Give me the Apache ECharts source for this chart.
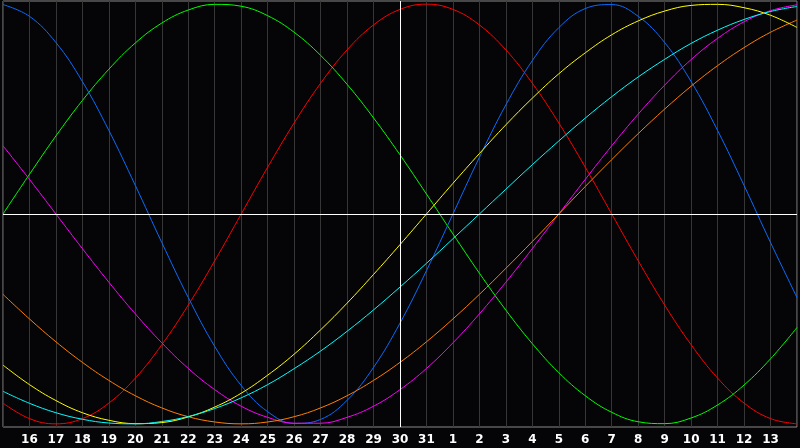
<!DOCTYPE html>
<html>
<head>
<meta charset="utf-8">
<style>
  html, body { margin: 0; padding: 0; background: #050407; }
  #chart { width: 800px; height: 448px; }
</style>
<script src="https://cdn.jsdelivr.net/npm/echarts@6/dist/echarts.min.js"></script>
</head>
<body>
<div id="chart"></div>
<script>
// days shown on the x axis (15th of one month to 14th of the next)
var days = ['15', '16', '17', '18', '19', '20', '21', '22', '23', '24', '25', '26', '27', '28', '29', '30', '31',
    '1', '2', '3', '4', '5', '6', '7', '8', '9', '10', '11', '12', '13', '14'];

// curve values, -100 .. 100, one per day
var red = [-90.1, -97.5, -100, -97.5, -90.1, -78.2, -62.3, -43.4, -22.3, 0, 22.3, 43.4, 62.3, 78.2, 90.1, 97.5, 100,
    97.5, 90.1, 78.2, 62.3, 43.4, 22.3, 0, -22.3, -43.4, -62.3, -78.2, -90.1, -97.5, -100];
var green = [0, 18.9, 37.2, 54.1, 69.0, 81.5, 91.0, 97.2, 99.9, 99.0, 94.5, 86.6, 75.6, 61.8, 45.8, 28.2, 9.5,
    -9.5, -28.2, -45.8, -61.8, -75.6, -86.6, -94.5, -99.0, -99.9, -97.2, -91.0, -81.5, -69.0, -54.1];
var blue = [99.8, 94.2, 81.7, 63.1, 39.8, 13.6, -13.6, -39.8, -63.1, -81.7, -94.2, -99.8, -97.9, -88.8, -73.1, -52.0, -27.0,
    0, 27.0, 52.0, 73.1, 88.8, 97.9, 99.8, 94.2, 81.7, 63.1, 39.8, 13.6, -13.6, -39.8];
var magenta = [32.5, 16.5, 0, -16.5, -32.5, -47.6, -61.4, -73.6, -83.7, -91.6, -96.9, -99.7, -99.7, -96.9, -91.6, -83.7, -73.6,
    -61.4, -47.6, -32.5, -16.5, 0, 16.5, 32.5, 47.6, 61.4, 73.6, 83.7, 91.6, 96.9, 99.7];
var orange = [-38.3, -50.0, -60.9, -70.7, -79.3, -86.6, -92.4, -96.6, -99.1, -100, -99.1, -96.6, -92.4, -86.6, -79.3, -70.7, -60.9,
    -50.0, -38.3, -25.9, -13.1, 0, 13.1, 25.9, 38.3, 50.0, 60.9, 70.7, 79.3, 86.6, 92.4];
var yellow = [-72.0, -81.3, -88.9, -94.7, -98.3, -99.9, -99.4, -96.7, -92.0, -85.4, -76.8, -66.8, -55.2, -42.5, -28.8, -14.6, 0,
    14.6, 28.8, 42.5, 55.2, 66.8, 76.8, 85.4, 92.0, 96.7, 99.4, 99.9, 98.3, 94.7, 88.9];
var cyan = [-84.5, -90.2, -94.7, -97.8, -99.6, -100, -98.9, -96.5, -92.7, -87.6, -81.3, -73.7, -65.3, -55.9, -45.7, -34.8, -23.5,
    -11.8, 0, 11.8, 23.5, 34.8, 45.7, 55.9, 65.3, 73.7, 81.3, 87.6, 92.7, 96.5, 98.9];

var curves = [
    { data: red, color: '#ff0000' },
    { data: green, color: '#00ff00' },
    { data: blue, color: '#0a6cff' },
    { data: magenta, color: '#ff00ff' },
    { data: orange, color: '#ff7f00' },
    { data: yellow, color: '#ffff00' },
    { data: cyan, color: '#00ffff' }
];

var myChart = echarts.init(document.getElementById('chart'));

var series = curves.map(function (c) {
    return {
        type: 'line',
        data: c.data,
        smooth: 0.4,
        symbol: 'none',
        lineStyle: { color: c.color, width: 1 },
        z: 3
    };
});

// white "today" line and zero line
series[0].markLine = {
    silent: true,
    symbol: 'none',
    label: { show: false },
    lineStyle: { color: '#ffffff', width: 1, type: 'solid' },
    data: [{ yAxis: 0 }, { xAxis: '30' }]
};

var option = {
    animation: false,
    backgroundColor: '#050407',
    grid: {
        left: 1,
        right: 1,
        top: 1,
        bottom: 21,
        show: true,
        borderColor: '#8a8a8a',
        borderWidth: 1,
        backgroundColor: 'transparent'
    },
    xAxis: {
        type: 'category',
        data: days,
        boundaryGap: false,
        axisLine: { show: false },
        axisTick: { show: false },
        axisLabel: {
            interval: 0,
            color: '#ffffff',
            fontFamily: 'DejaVu Sans',
            fontWeight: 'bold',
            fontSize: 12,
            margin: 7,
            formatter: function (value, index) {
                if (index === 0 || index === days.length - 1) return '';
                return value;
            }
        },
        splitLine: {
            show: true,
            interval: 0,
            lineStyle: { color: '#363636', width: 1 }
        }
    },
    yAxis: {
        type: 'value',
        min: -101.5,
        max: 101.5,
        show: false,
        splitLine: { show: false }
    },
    series: series
};

myChart.setOption(option);
</script>
</body>
</html>
